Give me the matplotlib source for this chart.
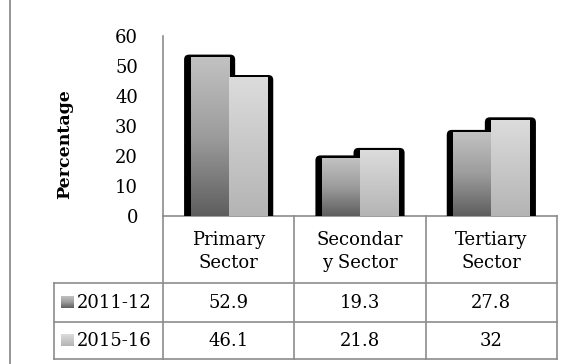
import numpy as np
import matplotlib.pyplot as plt
from matplotlib.colors import LinearSegmentedColormap
from matplotlib.patches import FancyBboxPatch
from matplotlib.transforms import blended_transform_factory

categories = ["Primary\nSector", "Secondar\ny Sector", "Tertiary\nSector"]
series_names = ["2011-12", "2015-16"]
values_2011 = [52.9, 19.3, 27.8]
values_2015 = [46.1, 21.8, 32]
value_labels_2011 = ["52.9", "19.3", "27.8"]
value_labels_2015 = ["46.1", "21.8", "32"]
y_ticks = [0, 10, 20, 30, 40, 50, 60]

W, H = 579, 364
plt.rcParams['font.family'] = ['DejaVu Serif']
fs = 13
fig = plt.figure(figsize=(W / 100, H / 100), dpi=100)

# fondo en pixeles para el marco y la tabla
bg = fig.add_axes([0, 0, 1, 1])
bg.axis('off')

# area de las barras
x_left, x_right, y_top, y_zero = 163, 557, 36, 216
ax = fig.add_axes([x_left / W, (H - y_zero) / H, (x_right - x_left) / W, (y_zero - y_top) / H])
px_x = len(categories) / (x_right - x_left)   # unidades de x por pixel
px_y = 60 / (y_zero - y_top)                  # unidades de y por pixel

grid_col = '#8c8c8c'
cmaps = [LinearSegmentedColormap.from_list('s1', ['#5e5e5e', '#9c9c9c', '#c2c2c2']),
         LinearSegmentedColormap.from_list('s2', ['#b4b4b4', '#dcdcdc'])]
series = [values_2011, values_2015]
x = np.arange(len(categories))
bw = 0.29
offsets = [-bw / 2, bw / 2]

# sombras negras primero (mas anchas a los lados, finas arriba)
side, top, rad = 6.5 * px_x, 2.7 * px_y, 5 * px_x
for vals, off in zip(series, offsets):
    for xi, v in zip(x, vals):
        sh = FancyBboxPatch((xi + off - bw / 2 - side, -3), bw + 2 * side, v + 3 + top,
                            boxstyle=f"round,pad=0,rounding_size={rad}",
                            mutation_aspect=px_y / px_x, fc='black', ec='none', zorder=1)
        ax.add_patch(sh)

grad = np.linspace(0, 1, 256).reshape(-1, 1)
for vals, off, cm in zip(series, offsets, cmaps):
    for xi, v in zip(x, vals):
        ax.imshow(grad, cmap=cm, origin='lower', aspect='auto', zorder=2,
                  extent=[xi + off - bw / 2, xi + off + bw / 2, 0, v])

ax.set_xlim(-0.5, len(categories) - 0.5)
ax.set_ylim(0, 60)
ax.set_yticks(y_ticks)
ax.set_xticks([])
ax.tick_params(axis='y', length=0, pad=18, labelsize=fs)
for s in ['top', 'right', 'bottom']:
    ax.spines[s].set_visible(False)
ax.spines['left'].set_color(grid_col)
ax.spines['left'].set_linewidth(1.2)
ax.patch.set_alpha(0)

# titulo del eje y
bg.text(65, 144, 'Percentage', rotation=90, ha='center', va='center',
        fontsize=12.5, fontweight='bold')

# marco izquierdo
bg.plot([9.5, 9.5], [0, H], color=grid_col, lw=1.3)

# tabla de datos
row_lines = [216, 283, 322, 359]
legend_left = 54
lw = 1.2
bg.plot([x_left, x_right], [row_lines[0], row_lines[0]], color=grid_col, lw=lw)
for yl in row_lines[1:]:
    bg.plot([legend_left, x_right], [yl, yl], color=grid_col, lw=lw)
bg.plot([legend_left, legend_left], [row_lines[1], row_lines[3]], color=grid_col, lw=lw)

tr = blended_transform_factory(ax.transData, bg.transData)
for b in np.arange(len(categories) + 1) - 0.5:
    bg.plot([b, b], [row_lines[0], row_lines[3]], color=grid_col, lw=lw, transform=tr)

for xi, cat in zip(x, categories):
    bg.text(xi, (row_lines[0] + row_lines[1]) / 2 + 2, cat, transform=tr,
            ha='center', va='center', fontsize=fs, linespacing=1.35)
for xi, a, b in zip(x, value_labels_2011, value_labels_2015):
    bg.text(xi, (row_lines[1] + row_lines[2]) / 2 + 1, a, transform=tr,
            ha='center', va='center', fontsize=fs)
    bg.text(xi, (row_lines[2] + row_lines[3]) / 2 + 1, b, transform=tr,
            ha='center', va='center', fontsize=fs)

# claves de la leyenda
for i, (name, cm) in enumerate(zip(series_names, cmaps)):
    yc = (row_lines[i + 1] + row_lines[i + 2]) / 2
    bg.imshow(grad, cmap=cm, origin='lower', aspect='auto',
              extent=[61, 74, yc + 6, yc - 6])
    bg.text(77, yc + 1, name, ha='left', va='center', fontsize=fs)
bg.set_xlim(0, W)
bg.set_ylim(H, 0)

fig.savefig('out.png', dpi=100)
